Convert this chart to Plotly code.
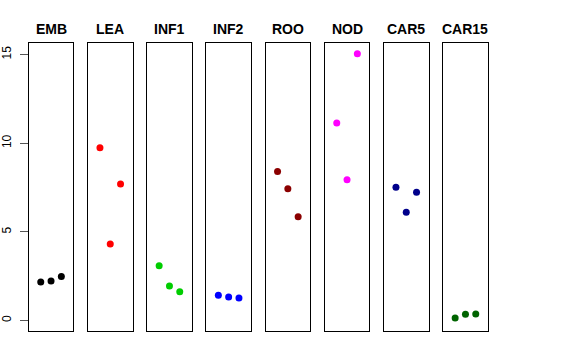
import plotly.graph_objects as go

groups = ["EMB", "LEA", "INF1", "INF2", "ROO", "NOD", "CAR5", "CAR15"]
colors = ["#000000", "#FF0000", "#00CD00", "#0000FF", "#8B0000", "#FF00FF", "#00008B", "#006400"]
rep_x = [1, 2, 3]
values = {
    "EMB": [2.17, 2.23, 2.49],
    "LEA": [9.75, 4.31, 7.70],
    "INF1": [3.09, 1.95, 1.63],
    "INF2": [1.42, 1.33, 1.27],
    "ROO": [8.41, 7.43, 5.85],
    "NOD": [11.14, 7.94, 15.05],
    "CAR5": [7.51, 6.10, 7.23],
    "CAR15": [0.14, 0.35, 0.37],
}
y_ticks = [0, 5, 10, 15]

W, H = 576, 360
left0, step, pw = 28.7, 59.2, 44.7
top_px, bot_px = 43, 331
yrange = [-0.59, 15.65]

fig = go.Figure()
layout = dict(
    width=W, height=H, margin=dict(l=0, r=0, t=0, b=0, autoexpand=False),
    paper_bgcolor="white", plot_bgcolor="white", showlegend=False,
    font=dict(family="Liberation Sans, Arial, sans-serif", color="black"),
)
annotations = []
for i, g in enumerate(groups):
    n = "" if i == 0 else str(i + 1)
    x0 = (left0 + i * step) / W
    x1 = (left0 + i * step + pw) / W
    fig.add_trace(go.Scatter(
        x=rep_x, y=values[g], mode="markers",
        marker=dict(color=colors[i], size=7, line=dict(width=0)),
        xaxis="x" + n, yaxis="y" + n, hoverinfo="skip",
    ))
    layout["xaxis" + n] = dict(
        domain=[x0, x1], range=[-0.17, 4.17], anchor="y" + n, automargin=False,
        showgrid=False, zeroline=False, showticklabels=False, ticks="",
        showline=True, linecolor="black", linewidth=1, mirror=True,
    )
    ya = dict(
        domain=[1 - bot_px / H, 1 - top_px / H], range=yrange, anchor="x" + n,
        automargin=False, showgrid=False, zeroline=False,
        showline=True, linecolor="black", linewidth=1, mirror=True,
    )
    if i == 0:
        ya.update(tickvals=y_ticks, ticktext=[str(v) for v in y_ticks],
                  ticks="outside", ticklen=8, tickcolor="#555555", tickwidth=1,
                  tickangle=-90, tickfont=dict(size=12, color="black"),
                  ticklabelstandoff=4)
    else:
        ya.update(showticklabels=False, ticks="")
    layout["yaxis" + n] = ya
    annotations.append(dict(
        x=(x0 + x1) / 2, y=1 - 29 / H, xref="paper", yref="paper",
        text="<b>" + g + "</b>", showarrow=False,
        font=dict(size=14, color="black"), xanchor="center", yanchor="middle",
    ))
layout["annotations"] = annotations
fig.update_layout(**layout)
fig.write_html("out.html", config={"displayModeBar": False},
               post_script="document.body.style.margin='0';document.body.style.overflow='hidden';")
